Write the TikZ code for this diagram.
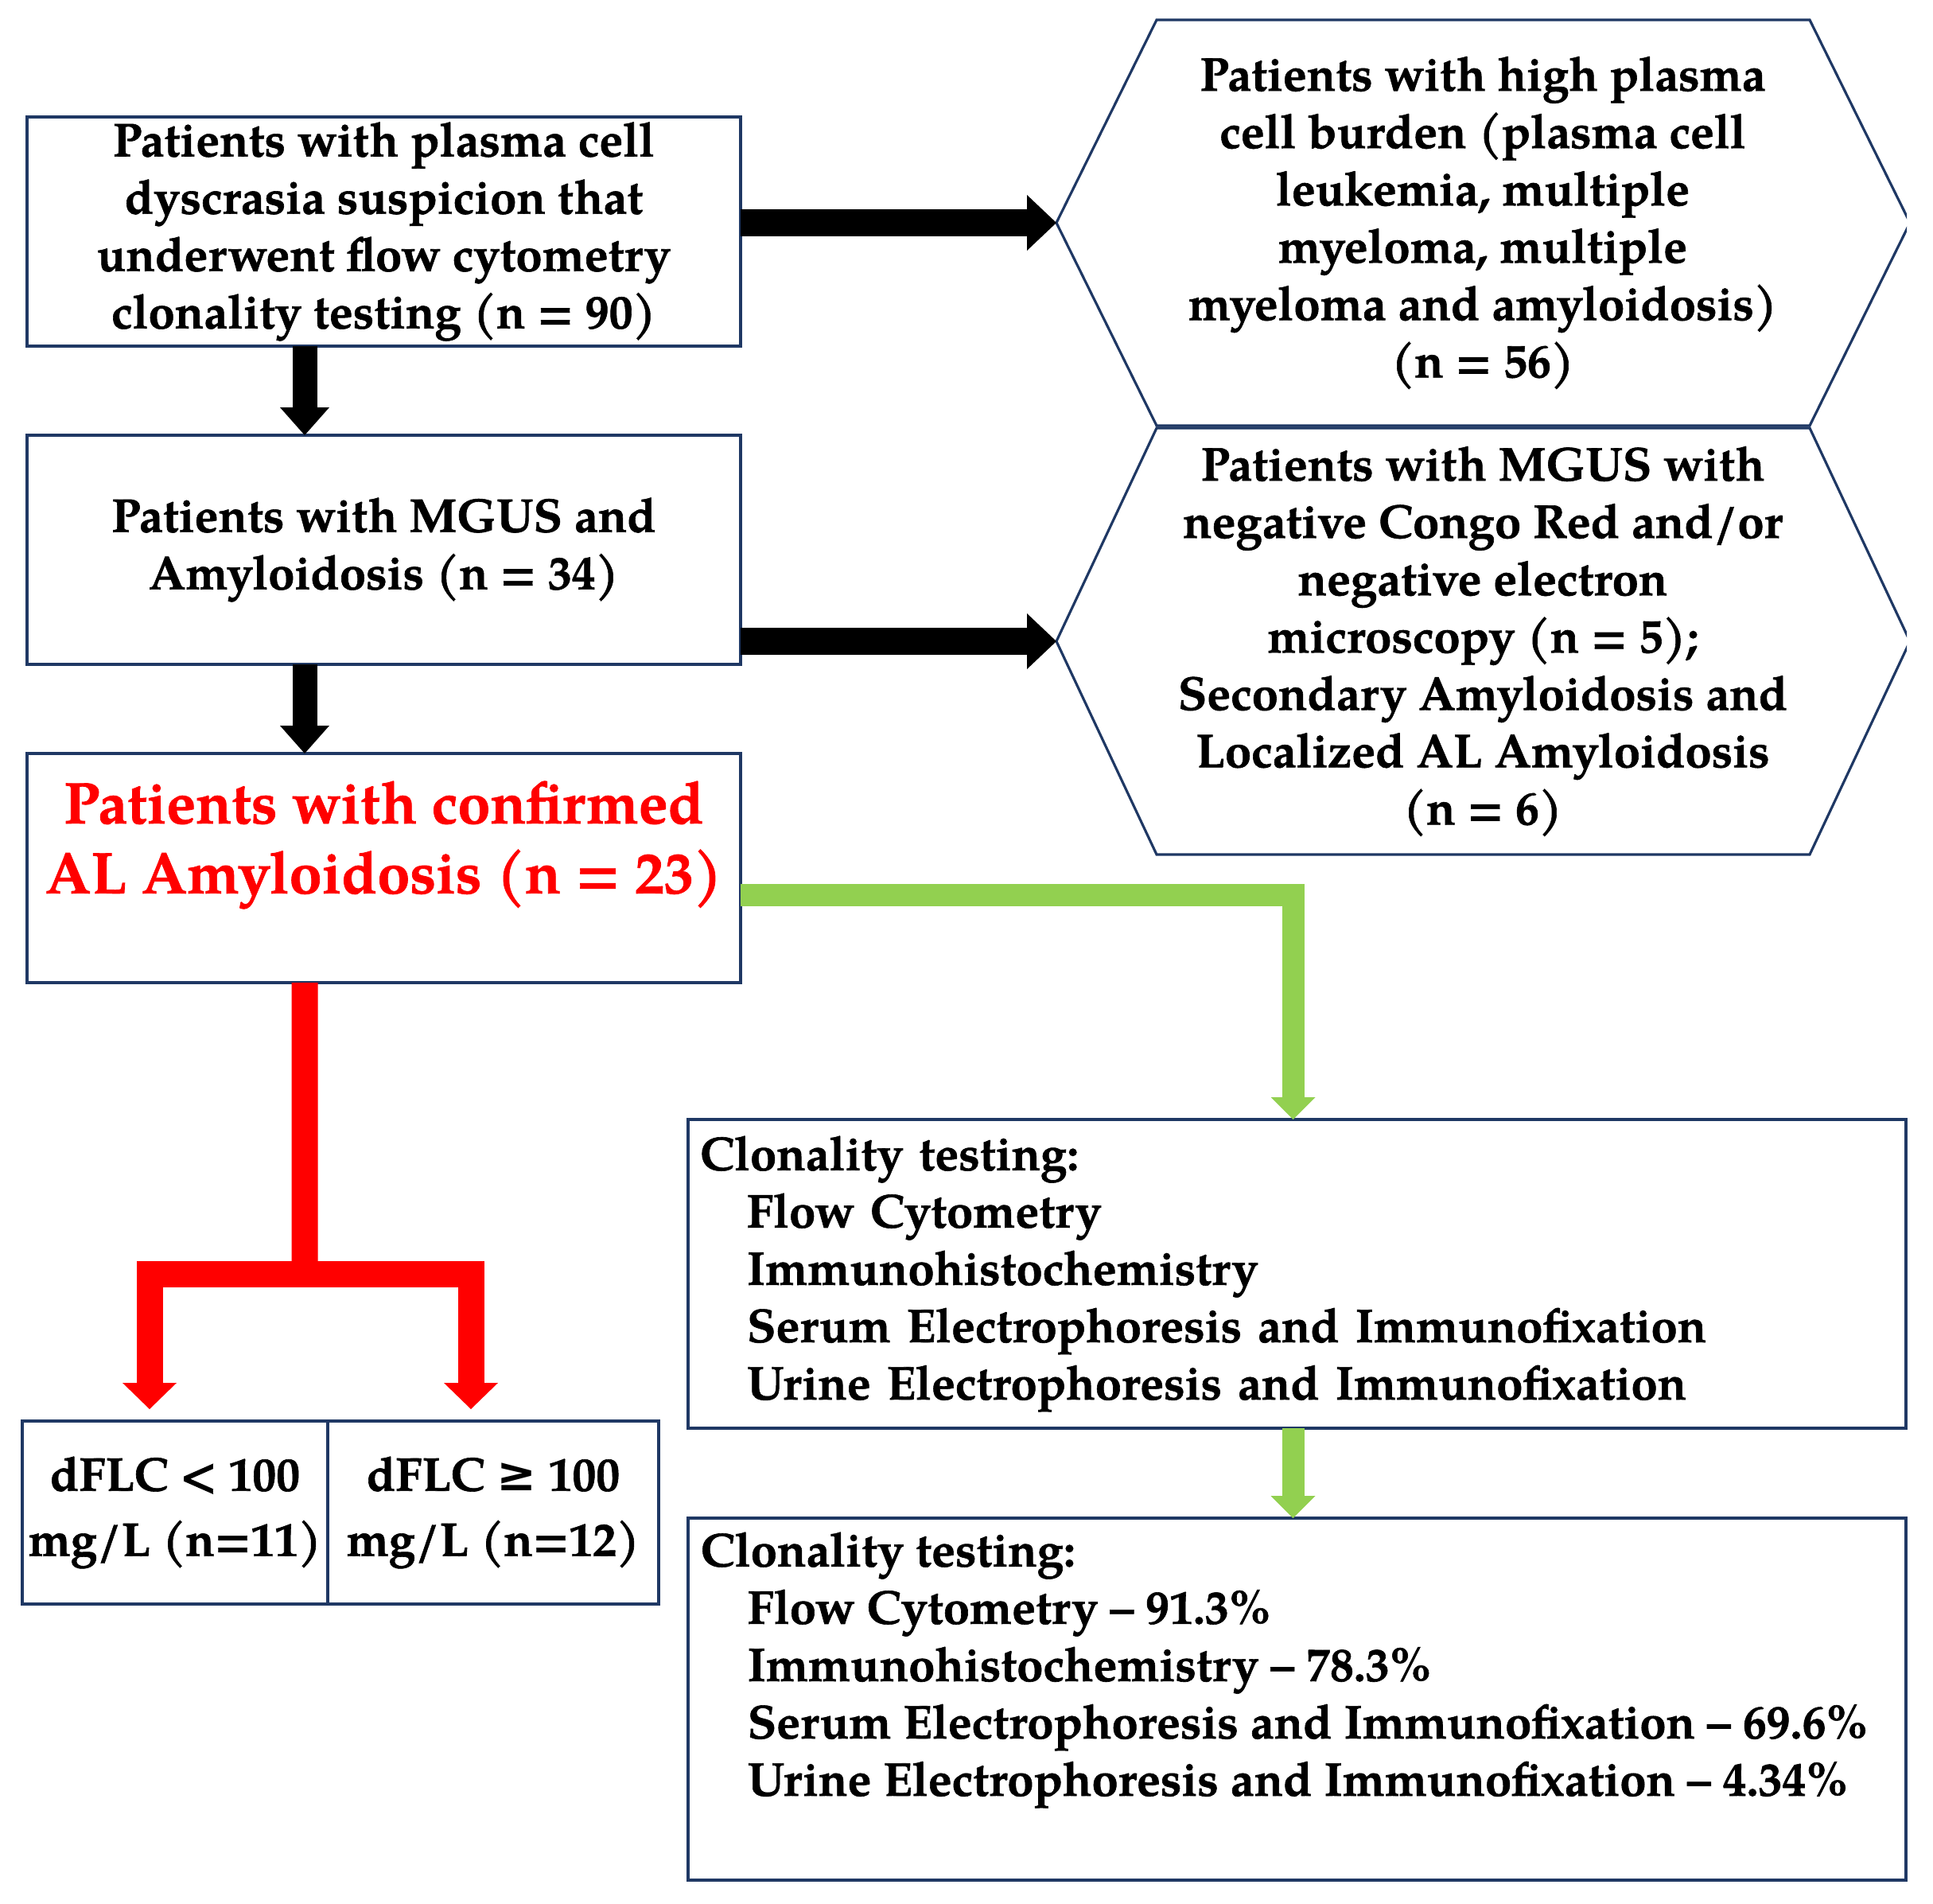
\documentclass[tikz,border=0pt]{standalone}
\usepackage{fontspec}
\setmainfont{TeX Gyre Pagella}[BoldFeatures={FakeBold=1}]
\newfontfamily\symbolfont{DejaVu Serif}
\usetikzlibrary{arrows.meta,positioning,calc}

\definecolor{boxnavy}{HTML}{1F3864}
\definecolor{flowgreen}{HTML}{92D050}
\definecolor{flowred}{HTML}{FF0000}

\tikzset{
  flowbox/.style={draw=boxnavy, line width=0.9pt, inner sep=0pt, outer sep=0pt, align=center,
    font=\bfseries\fontsize{17}{20.5}\selectfont},
  bigbox/.style={flowbox, minimum width=8.97cm, minimum height=2.88cm},
  cellbox/.style={flowbox, minimum height=2.30cm, font=\bfseries\fontsize{17}{23.3}\selectfont},
  hexline/.style={draw=boxnavy, line width=0.9pt, line join=miter},
  hextext/.style={align=center, inner sep=0pt, font=\bfseries\fontsize{17}{20.5}\selectfont},
  listtext/.style={align=left, inner sep=0pt, font=\bfseries\fontsize{17}{20.5}\selectfont},
  redtext/.style={align=center, inner sep=0pt, text=flowred, font=\bfseries\fontsize{21}{25}\selectfont},
  bigarrow/.style={line width=3.4mm, -{Triangle[length=3.7mm,width=7mm,line width=0pt]}},
  downarrow/.style={line width=3.1mm, -{Triangle[length=3.5mm,width=6.2mm,line width=0pt]}},
  greenarrow/.style={flowgreen, line width=2.8mm, line join=miter, -{Triangle[length=2.8mm,width=5.6mm,line width=0pt]}},
  redarrow/.style={flowred, line width=3.3mm, line join=miter, -{Triangle[length=3.3mm,width=6.8mm,line width=0pt]}},
}

\begin{document}
\begin{tikzpicture}
  \useasboundingbox (0,0) rectangle (24.30,-23.93);

  % left column
  \node[bigbox] (suspect) at (4.825,-2.91) {Patients with plasma cell\\dyscrasia suspicion that\\underwent flow cytometry\\clonality testing (n = 90)};
  \node[bigbox, below=1.12cm of suspect] (mgus) {Patients with MGUS and\\Amyloidosis (n = 34)};
  \node[bigbox, below=1.12cm of mgus] (confirmed) {};
  \node[redtext] (confirmedtext) at (4.825,-10.62) {Patients with confirmed\\AL Amyloidosis (n = 23)};

  % excluded groups
  \coordinate (hexhighW) at (13.28,-2.80);
  \coordinate (hexnegW) at (13.28,-8.06);
  \begin{scope}
    \clip (0,0) rectangle (23.97,-23.93);
    \draw[hexline] (hexhighW) -- ++(1.26,2.55) -- ++(8.21,0) -- ++(1.26,-2.55)
      -- ++(-1.26,-2.55) -- ++(-8.21,0) -- cycle;
    \draw[hexline] (hexnegW) -- ++(1.26,2.68) -- ++(8.21,0) -- ++(1.26,-2.68)
      -- ++(-1.26,-2.68) -- ++(-8.21,0) -- cycle;
  \end{scope}
  \node[hextext] (hexhigh) at (18.64,-2.80) {Patients with high plasma\\cell burden (plasma cell\\leukemia, multiple\\myeloma, multiple\\myeloma and amyloidosis)\\(n = 56)};
  \node[hextext] (hexneg) at (18.64,-8.06) {Patients with MGUS with\\negative Congo Red and/or\\negative electron\\microscopy (n = 5);\\Secondary Amyloidosis and\\Localized AL Amyloidosis\\(n = 6)};

  % dFLC split
  \node[cellbox, minimum width=3.84cm] (lowcell) at (2.20,-19.01) {dFLC < 100\\mg/L (n=11)};
  \node[cellbox, minimum width=4.16cm, right=0cm of lowcell] (highcell) {dFLC {\symbolfont ≥} 100\\mg/L (n=12)};

  % clonality testing
  \node[flowbox, minimum width=15.31cm, minimum height=3.88cm, text width=15.01cm, align=left] (tests) at (16.305,-16.01)
    {Clonality testing:\\
     \hspace*{0.59cm}Flow Cytometry\\
     \hspace*{0.59cm}Immunohistochemistry\\
     \hspace*{0.59cm}Serum Electrophoresis and Immunofixation\\
     \hspace*{0.59cm}Urine Electrophoresis and Immunofixation};
  \node[flowbox, minimum width=15.31cm, minimum height=4.55cm] (results) at (16.305,-21.355) {};
  \node[listtext, anchor=north west] (resultstext) at ($(results.north west)+(0.15,-0.17)$)
    {Clonality testing:\\
     \hspace*{0.59cm}Flow Cytometry -- 91.3\%\\
     \hspace*{0.59cm}Immunohistochemistry -- 78.3\%\\
     \hspace*{0.59cm}Serum Electrophoresis and Immunofixation -- 69.6\%\\
     \hspace*{0.59cm}Urine Electrophoresis and Immunofixation -- 4.34\%};

  % arrows
  \draw[bigarrow] (suspect.east |- hexhighW) -- (hexhighW);
  \draw[bigarrow] (mgus.east |- hexnegW) -- (hexnegW);
  \draw[downarrow] ([xshift=-9.95mm]suspect.south) -- ([xshift=-9.95mm]mgus.north);
  \draw[downarrow] ([xshift=-9.95mm]mgus.south) -- ([xshift=-9.95mm]confirmed.north);

  \draw[greenarrow] ([yshift=-3.4mm]confirmed.east) -| ([xshift=-0.5mm]tests.north);
  \draw[greenarrow] ([xshift=-0.5mm]tests.south) -- ([xshift=-0.5mm]results.north);

  \coordinate (split) at (3.83,-16.01);
  \coordinate (lowtip) at (1.88,-17.71);
  \coordinate (hightip) at (5.92,-17.71);
  \draw[flowred, line width=3.3mm] ([xshift=-9.95mm]confirmed.south) -- (split);
  \draw[redarrow] (split) -| (lowtip);
  \draw[redarrow] (split) -| (hightip);
\end{tikzpicture}
\end{document}
